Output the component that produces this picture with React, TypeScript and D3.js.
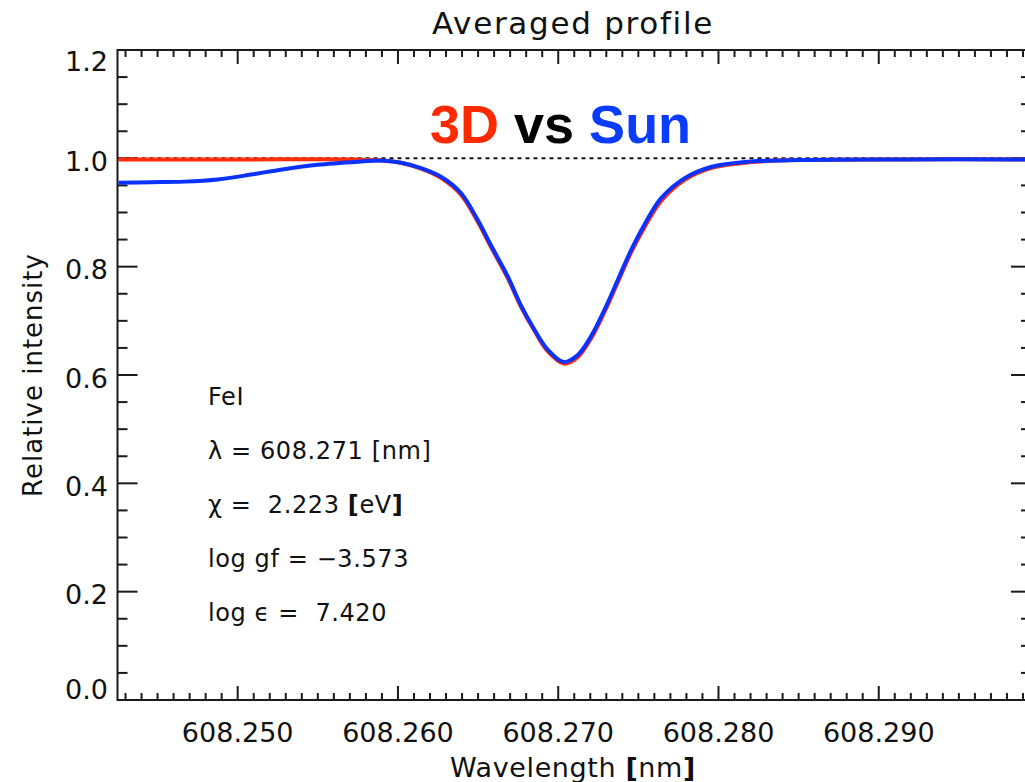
import React from 'react'
import * as d3 from 'd3'

// wavelengths in nm
const sunWave = [608.24256, 608.24459, 608.24665, 608.24875, 608.25083, 608.25289, 608.25499, 608.25769, 608.25894, 608.26019, 608.26144, 608.26268, 608.26393, 608.26498, 608.26581, 608.26685, 608.26768, 608.26851, 608.26934, 608.27034, 608.27122, 608.27204, 608.27288, 608.27371, 608.27454, 608.27537, 608.27641, 608.27787, 608.27953, 608.28203, 608.28515, 608.29139, 608.29957]
const sunFlux = [0.955, 0.956, 0.957, 0.961, 0.970, 0.980, 0.988, 0.994, 0.996, 0.992, 0.982, 0.966, 0.936, 0.886, 0.839, 0.782, 0.728, 0.684, 0.647, 0.624, 0.637, 0.671, 0.720, 0.775, 0.830, 0.877, 0.926, 0.963, 0.984, 0.994, 0.997, 0.998, 0.998]

const modelWave = [608.24256, 608.25000, 608.25740, 608.25894, 608.26019, 608.26144, 608.26268, 608.26393, 608.26498, 608.26581, 608.26685, 608.26768, 608.26851, 608.26934, 608.27034, 608.27122, 608.27204, 608.27288, 608.27371, 608.27454, 608.27537, 608.27641, 608.27787, 608.27953, 608.28203, 608.28515, 608.29139, 608.29957]
const modelFlux = [0.998, 0.998, 0.998, 0.996, 0.992, 0.981, 0.964, 0.933, 0.883, 0.836, 0.779, 0.726, 0.682, 0.644, 0.621, 0.633, 0.667, 0.716, 0.771, 0.826, 0.872, 0.921, 0.960, 0.982, 0.993, 0.997, 0.998, 0.998]

// [text before bracket, bracketed text, bold brackets?]
const lineInfo: [string, string, boolean][] = [
  ['FeI', '', false],
  ['λ = 608.271 ', 'nm', false],
  ['χ =  2.223 ', 'eV', true],
  ['log gf = −3.573', '', false],
  ['log ϵ =  7.420', '', false],
]

const W = 1025
const H = 782
const left = 117.5
const right = 1031
const top = 50
const bottom = 700
const font = '"DejaVu Sans", sans-serif'

const x = d3.scaleLinear().domain([608.2425, 608.2995]).range([left, right])
const y = d3.scaleLinear().domain([0, 1.2]).range([bottom, top])

const path = (ws: number[], fs: number[]) =>
  d3.line<number>()
    .x((w) => x(w))
    .y((_, i) => y(fs[i]))
    .curve(d3.curveCatmullRom)(ws) || ''

export default function App() {
  const xMajor = x.ticks(5)
  const xMinor = x.ticks(60)
  const yMajor = y.ticks(6)
  const yMinor = y.ticks(24)
  const isMajorX = (t: number) => xMajor.some((m) => Math.abs(m - t) < 1e-7)
  const isMajorY = (t: number) => yMajor.some((m) => Math.abs(m - t) < 1e-7)
  const ax = '#1a1a1a'

  return (
    <svg width={W} height={H} style={{ position: 'absolute', left: 0, top: 0, background: '#fff' }}>
      <defs>
        <clipPath id="plot">
          <rect x={left} y={top} width={right - left} height={bottom - top} />
        </clipPath>
      </defs>

      {/* axes frame */}
      <rect x={left} y={top} width={right - left} height={bottom - top} fill="none" stroke={ax} strokeWidth={2} />

      {xMinor.map((t) => {
        const len = isMajorX(t) ? 14 : 7
        return (
          <g key={`xt-${t}`} stroke={ax} strokeWidth={2}>
            <line x1={x(t)} x2={x(t)} y1={bottom} y2={bottom - len} />
            <line x1={x(t)} x2={x(t)} y1={top} y2={top + len} />
          </g>
        )
      })}
      {yMinor.map((t) => {
        const len = isMajorY(t) ? 20 : 10
        return (
          <g key={`yt-${t}`} stroke={ax} strokeWidth={2}>
            <line x1={left} x2={left + len} y1={y(t)} y2={y(t)} />
            <line x1={right} x2={right - len} y1={y(t)} y2={y(t)} />
          </g>
        )
      })}

      {xMajor.map((t) => (
        <text key={`xl-${t}`} x={x(t)} y={742} textAnchor="middle" fontFamily={font} fontSize={27} fill="#111">
          {d3.format('.3f')(t)}
        </text>
      ))}
      {yMajor.map((t, i) => {
        let cy = y(t) + 3
        if (i === 0) cy = bottom - 11
        if (i === yMajor.length - 1) cy = top + 11
        return (
          <text key={`yl-${t}`} x={108} y={cy} dy="0.36em" textAnchor="end" fontFamily={font} fontSize={27} fill="#111">
            {d3.format('.1f')(t)}
          </text>
        )
      })}

      <text x={573} y={34} textAnchor="middle" fontFamily={font} fontSize={31} letterSpacing={1.7} fill="#111">
        Averaged profile
      </text>
      <text x={573} y={777} textAnchor="middle" fontFamily={font} fontSize={27} letterSpacing={0.6} fill="#111">
        Wavelength <tspan fontWeight="bold">[</tspan>nm<tspan fontWeight="bold">]</tspan>
      </text>
      <text transform={`translate(42,375) rotate(-90)`} textAnchor="middle" fontFamily={font} fontSize={26} letterSpacing={1} fill="#111">
        Relative intensity
      </text>

      <g clipPath="url(#plot)">
        <line x1={left} x2={right} y1={y(1)} y2={y(1)} stroke="#111" strokeWidth={2} strokeDasharray="4,4" />
        <path d={path(modelWave, modelFlux)} fill="none" stroke="#ff2d0a" strokeWidth={4} />
        <path d={path(sunWave, sunFlux)} fill="none" stroke="#0a32ff" strokeWidth={4} />
      </g>

      <text x={430} y={143} fontFamily='"Liberation Sans", Arial, sans-serif' fontWeight="bold" fontSize={54}>
        <tspan fill="#ff2a00">3D</tspan>
        <tspan fill="#000"> vs </tspan>
        <tspan fill="#0a3cff">Sun</tspan>
      </text>

      {lineInfo.map(([s, b, bold], i) => (
        <text key={s} x={208} y={405 + i * 54} fontFamily={font} fontSize={24} letterSpacing={0.6} fill="#111" style={{ whiteSpace: 'pre' }}>
          {s}
          {b && (
            <>
              <tspan fontWeight={bold ? 'bold' : 'normal'}>[</tspan>
              {b}
              <tspan fontWeight={bold ? 'bold' : 'normal'}>]</tspan>
            </>
          )}
        </text>
      ))}
    </svg>
  )
}
